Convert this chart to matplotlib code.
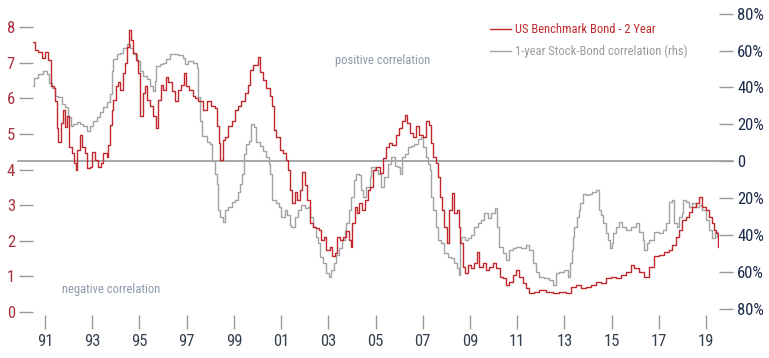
import matplotlib
matplotlib.use("Agg")
import matplotlib.pyplot as plt
from matplotlib import font_manager
from matplotlib.ticker import FixedLocator, FuncFormatter

# look for a condensed sans; fall back to Roboto (the narrowest plain one here)
_fonts = font_manager.fontManager.ttflist
_names = {f.name for f in _fonts}
FONT, STRETCH = "Roboto" if "Roboto" in _names else "DejaVu Sans", "normal"
for cand in ["Roboto Condensed", "Liberation Sans Narrow", "Noto Sans Condensed",
             "Open Sans Condensed", "DejaVu Sans Condensed"]:
    if cand in _names:
        FONT = cand
        break
else:
    for f in _fonts:
        if f.name in ("Roboto", "Noto Sans", "Open Sans", "DejaVu Sans") and \
                f.stretch in ("condensed", "semi-condensed") and f.style == "normal":
            FONT, STRETCH = f.name, f.stretch
            break
plt.rcParams["font.family"] = [FONT, "DejaVu Sans"]
plt.rcParams["font.stretch"] = STRETCH

C_RED = "#c0282d"
C_GREY = "#a3a3a3"
C_TICK = "#9a9a9a"
C_NOTE = "#8c99aa"

# ── data ─────────────────────────────────────────────────────────────
bond_year = [
    1990.51, 1990.58, 1990.72, 1990.86, 1991.00, 1991.14, 1991.24, 1991.38, 1991.42, 1991.49,
    1991.56, 1991.66, 1991.77, 1991.85, 1991.94, 1992.03, 1992.13, 1992.24, 1992.31, 1992.37,
    1992.48, 1992.55, 1992.69, 1992.76, 1992.90, 1992.98, 1993.12, 1993.25, 1993.36, 1993.47,
    1993.61, 1993.68, 1993.75, 1993.82, 1993.89, 1994.00, 1994.10, 1994.17, 1994.29, 1994.38,
    1994.48, 1994.55, 1994.64, 1994.74, 1994.85, 1994.95, 1995.02, 1995.13, 1995.23, 1995.33,
    1995.44, 1995.56, 1995.70, 1995.79, 1995.91, 1996.00, 1996.12, 1996.22, 1996.36, 1996.50,
    1996.64, 1996.78, 1996.88, 1996.99, 1997.10, 1997.25, 1997.35, 1997.48, 1997.56, 1997.70,
    1997.84, 1998.05, 1998.19, 1998.29, 1998.36, 1998.43, 1998.52, 1998.61, 1998.75, 1998.90,
    1999.04, 1999.18, 1999.32, 1999.46, 1999.60, 1999.70, 1999.81, 1999.93, 2000.02, 2000.10,
    2000.23, 2000.38, 2000.52, 2000.62, 2000.69, 2000.80, 2000.94, 2001.08, 2001.22, 2001.29,
    2001.36, 2001.48, 2001.58, 2001.67, 2001.79, 2001.90, 2002.00, 2002.10, 2002.21, 2002.35,
    2002.49, 2002.60, 2002.70, 2002.80, 2002.92, 2003.06, 2003.17, 2003.27, 2003.36, 2003.48,
    2003.62, 2003.76, 2003.87, 2003.94, 2004.02, 2004.11, 2004.21, 2004.32, 2004.44, 2004.54,
    2004.68, 2004.75, 2004.89, 2005.03, 2005.17, 2005.31, 2005.45, 2005.56, 2005.71, 2005.85,
    2005.99, 2006.13, 2006.23, 2006.33, 2006.44, 2006.58, 2006.72, 2006.86, 2007.00, 2007.15,
    2007.26, 2007.36, 2007.45, 2007.57, 2007.64, 2007.71, 2007.82, 2007.92, 2008.02, 2008.13,
    2008.25, 2008.34, 2008.44, 2008.53, 2008.58, 2008.69, 2008.81, 2008.91, 2009.05, 2009.19,
    2009.29, 2009.40, 2009.54, 2009.68, 2009.82, 2009.99, 2010.11, 2010.28, 2010.39, 2010.53,
    2010.67, 2010.81, 2010.95, 2011.09, 2011.23, 2011.38, 2011.52, 2011.73, 2011.94, 2012.22,
    2012.50, 2012.79, 2013.07, 2013.28, 2013.49, 2013.70, 2013.91, 2014.13, 2014.34, 2014.55,
    2014.76, 2014.97, 2015.18, 2015.39, 2015.61, 2015.82, 2015.96, 2016.17, 2016.38, 2016.59,
    2016.80, 2017.01, 2017.23, 2017.44, 2017.58, 2017.72, 2017.86, 2018.00, 2018.14, 2018.28,
    2018.42, 2018.57, 2018.71, 2018.85, 2018.99, 2019.13, 2019.24, 2019.34, 2019.44, 2019.52,
]
bond_2y = [
    7.59, 7.36, 7.31, 7.13, 7.31, 7.08, 6.33, 6.29, 5.91, 5.17,
    4.78, 5.31, 5.67, 5.20, 5.49, 4.64, 4.46, 4.18, 3.99, 4.55,
    4.97, 4.64, 4.46, 4.04, 4.08, 4.50, 4.27, 4.08, 4.18, 4.46,
    4.36, 4.69, 5.25, 5.67, 5.96, 6.33, 6.47, 6.24, 6.70, 6.99,
    7.45, 7.92, 7.64, 7.27, 7.08, 6.70, 5.49, 6.14, 6.33, 5.96,
    5.77, 5.49, 5.16, 5.96, 6.38, 6.24, 6.61, 6.47, 6.19, 5.91,
    6.24, 6.38, 6.70, 6.33, 6.24, 6.05, 6.00, 5.91, 5.91, 5.67,
    5.91, 5.77, 5.72, 5.21, 4.74, 4.27, 4.83, 4.92, 5.21, 5.35,
    5.67, 5.77, 5.91, 6.14, 6.38, 6.80, 6.94, 6.94, 7.17, 6.75,
    6.52, 6.28, 6.05, 5.77, 5.11, 4.92, 4.55, 4.46, 4.27, 3.99,
    3.43, 3.05, 3.38, 3.15, 3.43, 3.94, 3.57, 3.15, 2.49, 2.40,
    2.35, 2.30, 2.02, 2.11, 1.74, 1.83, 1.56, 1.65, 2.11, 2.02,
    2.11, 2.26, 2.02, 1.83, 2.49, 2.96, 2.77, 3.05, 2.87, 3.15,
    3.43, 3.52, 3.99, 4.08, 3.90, 4.32, 4.64, 4.74, 4.69, 4.97,
    5.16, 5.35, 5.53, 5.30, 5.02, 4.92, 5.21, 4.97, 4.92, 5.35,
    5.25, 4.74, 4.36, 4.18, 3.80, 3.24, 2.87, 2.40, 1.93, 2.87,
    3.33, 2.77, 2.87, 2.40, 1.93, 1.27, 1.09, 1.32, 1.23, 1.37,
    1.69, 1.27, 1.37, 1.18, 1.27, 1.37, 1.23, 0.99, 0.95, 0.76,
    0.85, 1.04, 1.18, 0.99, 0.81, 0.67, 0.54, 0.57, 0.62, 0.57,
    0.54, 0.57, 0.52, 0.71, 0.76, 0.67, 0.71, 0.76, 0.85, 0.81,
    0.95, 0.99, 0.95, 1.04, 1.13, 1.32, 1.23, 1.13, 0.99, 1.27,
    1.56, 1.60, 1.69, 1.74, 1.88, 2.11, 2.30, 2.58, 2.68, 2.82,
    2.96, 3.05, 3.24, 2.96, 2.87, 2.68, 2.49, 2.30, 2.21, 1.83,
]

corr_year = [
    1990.51, 1990.53, 1990.72, 1990.93, 1991.07, 1991.18, 1991.28, 1991.42, 1991.56, 1991.71,
    1991.85, 1991.99, 1992.09, 1992.20, 1992.34, 1992.48, 1992.62, 1992.76, 1992.90, 1993.04,
    1993.19, 1993.33, 1993.47, 1993.61, 1993.75, 1993.82, 1993.89, 1994.03, 1994.17, 1994.31,
    1994.46, 1994.60, 1994.74, 1994.88, 1995.02, 1995.16, 1995.30, 1995.44, 1995.56, 1995.65,
    1995.72, 1995.86, 1996.00, 1996.14, 1996.29, 1996.43, 1996.64, 1996.85, 1996.92, 1997.06,
    1997.27, 1997.42, 1997.46, 1997.56, 1997.67, 1997.84, 1997.98, 1998.09, 1998.19, 1998.29,
    1998.33, 1998.43, 1998.52, 1998.61, 1998.75, 1998.90, 1999.04, 1999.18, 1999.28, 1999.36,
    1999.42, 1999.53, 1999.64, 1999.74, 1999.84, 1999.95, 2000.09, 2000.23, 2000.38, 2000.48,
    2000.55, 2000.63, 2000.77, 2000.91, 2001.01, 2001.15, 2001.25, 2001.36, 2001.44, 2001.58,
    2001.71, 2001.86, 2002.00, 2002.14, 2002.24, 2002.35, 2002.46, 2002.56, 2002.66, 2002.77,
    2002.92, 2003.03, 2003.13, 2003.22, 2003.31, 2003.45, 2003.59, 2003.69, 2003.76, 2003.87,
    2003.97, 2004.07, 2004.19, 2004.30, 2004.40, 2004.49, 2004.61, 2004.75, 2004.82, 2004.96,
    2005.10, 2005.24, 2005.38, 2005.52, 2005.67, 2005.81, 2005.95, 2006.05, 2006.13, 2006.23,
    2006.37, 2006.51, 2006.65, 2006.79, 2006.93, 2007.00, 2007.12, 2007.21, 2007.32, 2007.36,
    2007.45, 2007.57, 2007.64, 2007.78, 2007.92, 2008.06, 2008.20, 2008.34, 2008.44, 2008.53,
    2008.58, 2008.63, 2008.77, 2008.91, 2009.05, 2009.19, 2009.33, 2009.47, 2009.61, 2009.75,
    2009.90, 2010.04, 2010.13, 2010.25, 2010.39, 2010.53, 2010.67, 2010.81, 2010.95, 2011.16,
    2011.38, 2011.52, 2011.66, 2011.80, 2011.94, 2012.15, 2012.36, 2012.53, 2012.65, 2012.79,
    2013.00, 2013.14, 2013.24, 2013.31, 2013.35, 2013.42, 2013.52, 2013.60, 2013.66, 2013.77,
    2013.91, 2014.05, 2014.19, 2014.34, 2014.45, 2014.55, 2014.65, 2014.76, 2014.86, 2014.94,
    2015.01, 2015.07, 2015.18, 2015.32, 2015.46, 2015.63, 2015.82, 2016.03, 2016.17, 2016.31,
    2016.38, 2016.48, 2016.59, 2016.80, 2017.01, 2017.18, 2017.30, 2017.44, 2017.55, 2017.65,
    2017.75, 2017.86, 2017.97, 2018.03, 2018.14, 2018.28, 2018.42, 2018.57, 2018.71, 2018.85,
    2018.99, 2019.13, 2019.27, 2019.38, 2019.48,
]
corr_pct = [
    40.9, 45.3, 47.2, 48.9, 47.2, 42.6, 39.9, 35.5, 34.6, 31.0,
    29.2, 23.8, 19.4, 20.3, 21.1, 20.3, 19.4, 16.7, 19.4, 22.0,
    23.8, 26.5, 29.2, 31.9, 36.4, 48.9, 55.2, 57.9, 58.8, 61.5,
    63.3, 61.5, 57.9, 54.3, 48.9, 46.2, 44.5, 40.9, 38.2, 43.5,
    51.6, 52.5, 53.4, 55.2, 57.9, 58.2, 57.5, 56.1, 52.5, 54.3,
    53.4, 50.7, 34.6, 22.0, 14.0, 10.4, 9.5, 0.5, -6.6, -12.0,
    -26.3, -29.9, -32.6, -26.3, -24.6, -21.9, -21.0, -16.5, -12.0, -6.6,
    4.1, 9.5, 11.3, 20.3, 18.4, 10.4, 8.6, 5.9, 2.3, -1.2,
    -6.6, -21.0, -22.7, -24.6, -29.9, -26.3, -29.0, -34.4, -35.3, -29.9,
    -26.3, -23.7, -25.4, -24.6, -29.9, -35.3, -40.7, -44.2, -51.5, -55.0,
    -60.4, -62.2, -58.6, -55.0, -50.5, -46.9, -42.5, -37.1, -33.5, -26.3,
    -19.2, -10.2, -6.6, -7.5, -15.6, -19.2, -13.8, -8.4, -3.0, -4.8,
    -6.6, -13.8, -8.4, -1.2, 2.3, -2.2, -3.0, -6.6, 2.3, 4.1,
    7.7, 8.6, 9.5, 12.2, 13.1, 7.7, 2.3, -1.2, -4.8, -19.2,
    -26.3, -35.3, -42.5, -44.2, -49.6, -51.5, -52.3, -55.0, -57.7, -61.3,
    -44.2, -40.7, -42.5, -41.6, -39.8, -35.3, -33.5, -31.7, -28.1, -30.8,
    -28.1, -25.4, -35.3, -46.1, -49.6, -53.2, -47.8, -46.9, -46.1, -46.9,
    -45.2, -47.8, -55.0, -59.5, -62.2, -63.1, -64.0, -66.7, -60.4, -59.5,
    -58.6, -62.2, -55.0, -47.8, -40.7, -35.3, -29.9, -26.3, -22.7, -17.4,
    -18.3, -17.4, -16.5, -15.2, -26.3, -29.0, -33.5, -38.9, -42.5, -46.9,
    -44.2, -38.9, -35.3, -32.6, -35.3, -37.1, -35.3, -33.5, -38.0, -42.5,
    -47.8, -44.2, -42.5, -38.0, -38.9, -37.1, -33.5, -21.9, -21.0, -33.5,
    -35.3, -29.9, -28.1, -21.0, -21.9, -24.6, -22.7, -24.6, -23.7, -26.3,
    -31.7, -37.1, -41.6, -38.0, -40.7,
]

year_ticks = [1991, 1993, 1995, 1997, 1999, 2001, 2003, 2005, 2007, 2009,
              2011, 2013, 2015, 2017, 2019]
yield_ticks = [0, 1, 2, 3, 4, 5, 6, 7, 8]
corr_ticks = [-80, -60, -40, -20, 0, 20, 40, 60, 80]

fig = plt.figure(figsize=(7.69, 3.58), dpi=100)
ax = fig.add_axes([33 / 769, 43 / 358, 686 / 769, 305 / 358])
ax2 = ax.twinx()

l2, = ax2.plot(corr_year, corr_pct, color=C_GREY, lw=1.0, drawstyle="steps-post",
               label="1-year Stock-Bond correlation (rhs)")
l1, = ax.plot(bond_year, bond_2y, color=C_RED, lw=1.0, drawstyle="steps-post",
              label="US Benchmark Bond - 2 Year")
ax.set_zorder(ax2.get_zorder() + 1)
ax.patch.set_visible(False)

# zero-correlation line, runs over the tick area on both sides
ax2.axhline(0, xmin=-15 / 686, xmax=1 + 14 / 686, color="#8f8f8f", lw=1.1,
            clip_on=False, zorder=0)

ax.set_xlim(1990.49, 2019.55)
ax.set_ylim(-0.084, 8.477)
ax2.set_ylim(-83.0, 81.9)

for a in (ax, ax2):
    for s in a.spines.values():
        s.set_visible(False)

ax.xaxis.set_major_locator(FixedLocator(year_ticks))
ax.xaxis.set_major_formatter(FuncFormatter(lambda v, p: f"{int(round(v)) % 100:02d}"))
ax.yaxis.set_major_locator(FixedLocator(yield_ticks))
ax2.yaxis.set_major_locator(FixedLocator(corr_ticks))
ax2.yaxis.set_major_formatter(FuncFormatter(lambda v, p: "0" if v == 0 else f"{abs(int(v))}%"))

ax.tick_params(axis="x", direction="out", length=10, width=1, color=C_TICK,
               pad=4, labelsize=12, labelcolor="#34404f")
ax.tick_params(axis="y", direction="out", length=10, width=1, color=C_TICK,
               pad=3, labelsize=12, labelcolor="#a8323e")
ax2.tick_params(axis="y", direction="out", length=10, width=1, color=C_TICK,
                pad=3, labelsize=12, labelcolor="#1c2b4a")

ax.text(2005.30, 7.07, "positive correlation", ha="center", va="center",
        fontsize=9, color=C_NOTE)
ax.text(1993.79, 0.62, "negative correlation", ha="center", va="center",
        fontsize=9, color=C_NOTE)

ax.legend(handles=[l1, l2], loc="upper left", bbox_to_anchor=(490 / 769, 1 - 23 / 358),
          bbox_transform=fig.transFigure, frameon=False, fontsize=9,
          handlelength=1.7, handletextpad=0.3, labelspacing=0.7,
          borderpad=0, borderaxespad=0, labelcolor=[C_RED, "#9a9a9a"])

fig.savefig("out.png", dpi=100, facecolor="white")
